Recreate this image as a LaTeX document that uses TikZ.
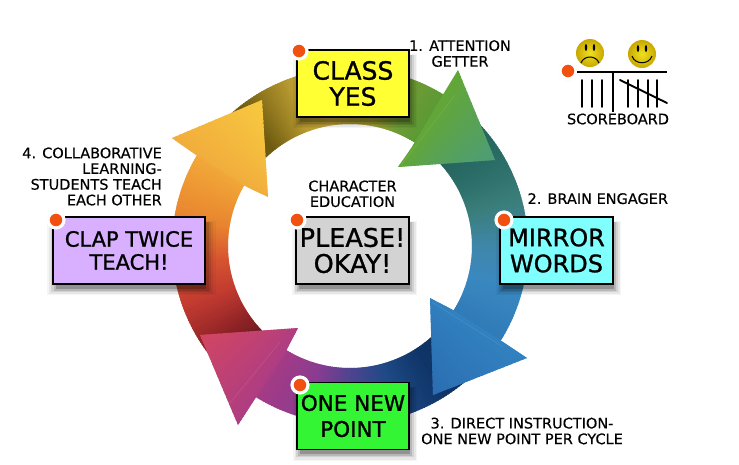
\documentclass[tikz,border=0pt]{standalone}
\usepackage{fontspec}
\setmainfont{DejaVu Sans}
\newfontfamily\comicfont{DejaVu Sans}[FakeBold=1.1]
\newfontfamily\labelfont{DejaVu Sans}[FakeBold=0.35]
\usetikzlibrary{positioning,shadows}

\definecolor{olivedark}{HTML}{6E5A10}
\definecolor{goldmid}{HTML}{B89A30}
\definecolor{goldlight}{HTML}{C8AA3A}
\definecolor{olivegreen}{HTML}{A8A030}
\definecolor{leafgreen}{HTML}{6F9A35}
\definecolor{grassgreen}{HTML}{5A9A35}
\definecolor{tealdark}{HTML}{1F5A52}
\definecolor{tealmid}{HTML}{2A6C66}
\definecolor{teallight}{HTML}{3A7E7A}
\definecolor{skymid}{HTML}{3F86A8}
\definecolor{skylight}{HTML}{3A88C0}
\definecolor{skyend}{HTML}{2F7AB8}
\definecolor{navydark}{HTML}{0C2F5C}
\definecolor{navymid}{HTML}{0F3568}
\definecolor{navylight}{HTML}{1F4A85}
\definecolor{violetmid}{HTML}{4D4490}
\definecolor{plummid}{HTML}{8A3C90}
\definecolor{plumend}{HTML}{A53B85}
\definecolor{wineblack}{HTML}{4A1015}
\definecolor{winedark}{HTML}{6A1A20}
\definecolor{winemid}{HTML}{8C2226}
\definecolor{brickred}{HTML}{C03A30}
\definecolor{rustred}{HTML}{D85530}
\definecolor{orangemid}{HTML}{E8852F}
\definecolor{orangeend}{HTML}{F2A838}
\definecolor{headgreen}{HTML}{66A82C}
\definecolor{headteal}{HTML}{4B9C7E}
\definecolor{headblue}{HTML}{3384C2}
\definecolor{headnavy}{HTML}{2A6CB0}
\definecolor{headplum}{HTML}{A93C88}
\definecolor{headrose}{HTML}{D5465F}
\definecolor{headorange}{HTML}{F0A83C}
\definecolor{headyellow}{HTML}{F8CC40}
\definecolor{noteyellow}{HTML}{FFFF33}
\definecolor{notecyan}{HTML}{80FFFF}
\definecolor{notegreen}{HTML}{33F533}
\definecolor{notelilac}{HTML}{D8B0FF}
\definecolor{notegrey}{HTML}{D3D3D3}
\definecolor{dotorange}{HTML}{F05010}
\definecolor{facerim}{HTML}{C8A800}
\definecolor{facemid}{HTML}{F0E020}

\newcommand{\sweep}[6]{%
  \pgfmathtruncatemacro{\nsteps}{ceil(abs(#2-#1))}
  \foreach \i in {1,...,\nsteps}{
    \pgfmathsetmacro{\aone}{#1+(#2-#1)*(\i-1)/\nsteps}
    \pgfmathsetmacro{\atwo}{#1+(#2-#1)*\i/\nsteps+0.5}
    \pgfmathtruncatemacro{\mixp}{100*\i/\nsteps}
    \fill[#4!\mixp!#3] (\aone:#5) -- (\aone:#6) -- (\atwo:#6) -- (\atwo:#5) -- cycle;
  }%
}

\begin{document}
\begin{tikzpicture}[
  x=1pt,y=-1pt,
  note/.style={draw=black,line width=1.3pt,align=center,text=black,inner sep=0pt,
    minimum height=67pt,font=\comicfont\fontsize{#1}{26}\selectfont,
    general shadow={fill=black,opacity=.04,shadow xshift=2pt,shadow yshift=-7pt,shadow scale=1.11},
    general shadow={fill=black,opacity=.06,shadow xshift=2pt,shadow yshift=-7pt,shadow scale=1.08},
    general shadow={fill=black,opacity=.09,shadow xshift=2pt,shadow yshift=-6pt,shadow scale=1.05},
    general shadow={fill=black,opacity=.13,shadow xshift=2pt,shadow yshift=-6pt,shadow scale=1.02},
    general shadow={fill=black,opacity=.2,shadow xshift=2pt,shadow yshift=-5pt,shadow scale=.99}},
  caption/.style={align=center,inner sep=0pt,font=\labelfont\fontsize{14.5}{15.7}\selectfont},
  pin/.style={circle,fill=dotorange,draw=white,line width=3.2pt,minimum size=16pt,inner sep=0pt,
    general shadow={fill=black,opacity=.08,shadow scale=1.2}},
  tally/.style={line width=1.9pt,line cap=round},
  seam/.style={white,opacity=.1,line width=.6pt},
  face/.style={circle,minimum size=28pt,inner sep=0pt,shade,inner color=facemid,outer color=facerim}
]
\useasboundingbox (0,0) rectangle (739,464);

\begin{scope}[shift={(350,246)}]
\foreach \afrom/\ato/\cfrom/\cto in {
  225/232/olivedark/olivedark,232/250/olivedark/goldmid,250/262/goldmid/goldlight,
  262/280/goldlight/olivegreen,280/292/olivegreen/leafgreen,292/303/leafgreen/grassgreen,
  304/330/tealdark/tealmid,330/345/tealmid/teallight,345/360/teallight/skymid,
  360/375/skymid/skylight,375/393/skylight/skyend}
  {\sweep{\afrom}{\ato}{\cfrom}{\cto}{122}{178}}
\foreach \afrom/\ato/\cfrom/\cto in {
  40/58/navydark/navymid,58/75/navymid/navylight,75/90/navylight/violetmid,
  90/105/violetmid/plummid,105/122/plummid/plumend,
  124/135/wineblack/winedark,135/145/winedark/winemid,145/160/winemid/brickred,
  160/175/brickred/rustred,175/190/rustred/orangemid,190/211/orangemid/orangeend}
  {\sweep{\afrom}{\ato}{\cfrom}{\cto}{122}{178}}
\end{scope}

\begin{scope}
\clip (412,147) -- (398,167) -- (495,160) -- (458,70) -- (444,93) -- cycle;
\begin{scope}[shift={(350,246)}]\sweep{298}{332}{headgreen}{headteal}{60}{260}\end{scope}
\end{scope}
\begin{scope}
\clip (453,310) -- (430,298) -- (433,395) -- (527,358) -- (503,342) -- cycle;
\begin{scope}[shift={(350,246)}]\sweep{28}{64}{headblue}{headnavy}{60}{260}\end{scope}
\end{scope}
\begin{scope}
\clip (285,353) -- (298,328) -- (200,335) -- (238,425) -- (253,402) -- cycle;
\begin{scope}[shift={(350,246)}]\sweep{118}{152}{headplum}{headrose}{60}{260}\end{scope}
\end{scope}
\begin{scope}
\clip (193,153) -- (172,138) -- (262,100) -- (268,197) -- (243,185) -- cycle;
\begin{scope}[shift={(350,246)}]\sweep{206}{242}{headorange}{headyellow}{60}{260}\end{scope}
\end{scope}
\draw[seam] (401,165) -- (455,95);
\draw[seam] (432,302) -- (503,347);
\draw[seam] (280,342) -- (230,403);

\node[note=25,fill=noteyellow,minimum width=112pt] (classyes) at (353,83.5) {CLASS\\YES};
\node[note=24,fill=notecyan,minimum width=113pt] (mirror) at (556.5,250.5) {MIRROR\\WORDS};
\node[note=21.5,fill=notegreen,minimum width=112pt] (newpoint) at (353,416) {ONE NEW\\POINT};
\node[note=21,fill=notelilac,minimum width=152pt] (clap) at (129,250.5) {CLAP TWICE\\[-3pt]TEACH!};
\node[note=25.5,fill=notegrey,minimum width=113pt] (please) at (352.5,250.5) {PLEASE!\\OKAY!};

\node[caption] (attention) at (460,53.5) {1. ATTENTION\\GETTER};
\node[caption,above right=12pt and 28pt of mirror.north west] (engager) {2. BRAIN ENGAGER};
\node[caption] (instruction) at (522,431) {3. DIRECT INSTRUCTION-\\ONE NEW POINT PER CYCLE};
\node[caption,align=right,anchor=east] (collab) at (162,176.5) {4. COLLABORATIVE\\LEARNING-\\STUDENTS TEACH\\EACH OTHER};
\node[caption,above=9pt of please] (character) {CHARACTER\\EDUCATION};

\node[pin] (pina) at (299,51) {};
\node[pin] (pinb) at (504,220) {};
\node[pin] (pinc) at (300,385) {};
\node[pin] (pind) at (56,220) {};
\node[pin] (pine) at (297,220) {};
\node[pin] (pinf) at (568,71) {};

\node[face] (sad) at (590,53) {};
\node[face] (happy) at (642,54) {};
\fill (586,47.5) ellipse (1.2 and 3.5) (594,47.5) ellipse (1.2 and 3.5);
\fill (638,48.5) ellipse (1.2 and 3.5) (646,48.5) ellipse (1.2 and 3.5);
\draw[line width=1pt] (581,63) .. controls (584,55) and (596,55) .. (599,63);
\draw[line width=1pt] (632,56) .. controls (635,65) and (649,65) .. (652,56);

\draw[line width=2.4pt] (577,72) -- (667,72);
\draw[line width=2pt] (613,72) -- (613,112);
\foreach \xpos in {582,592,602,628,638,648,657}
  \draw[tally] (\xpos,80) -- (\xpos,107);
\draw[tally] (620,80) -- (667,103);
\node[caption] (score) at (618,119) {SCOREBOARD};
\end{tikzpicture}
\end{document}
